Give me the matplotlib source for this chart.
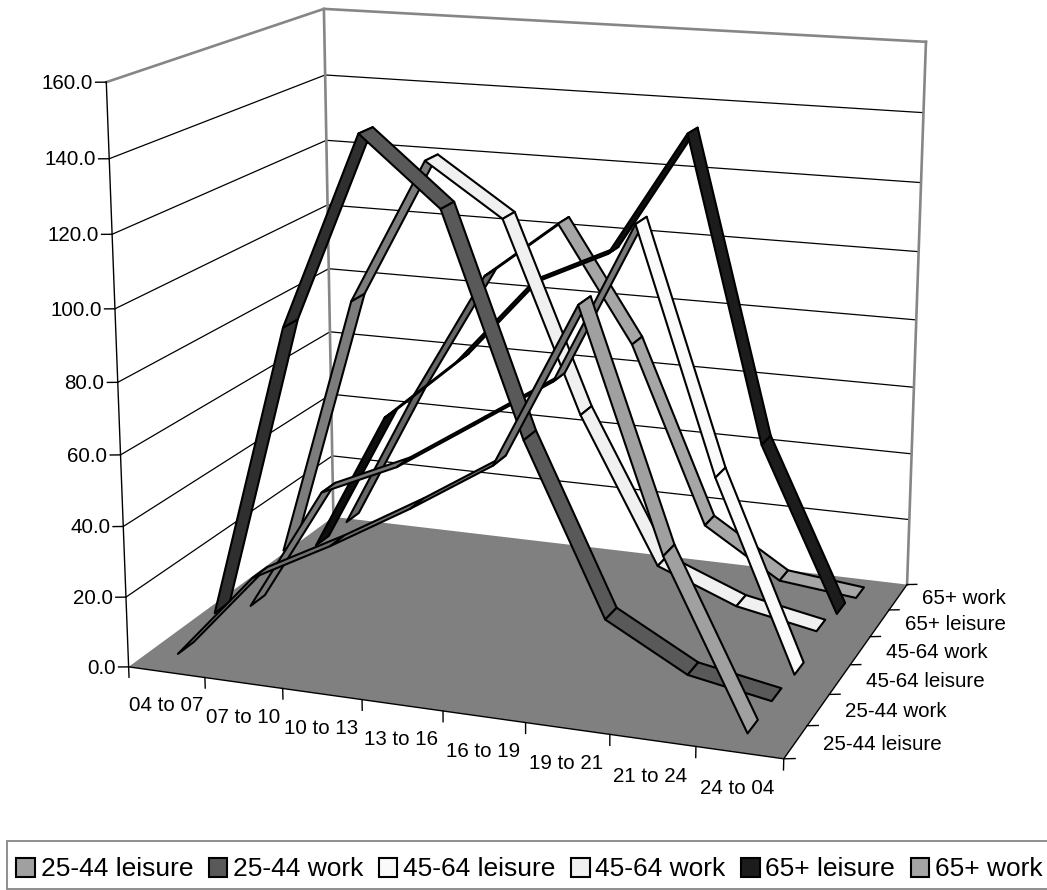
import matplotlib
matplotlib.use('Agg')
import numpy as np
import matplotlib.pyplot as plt
from matplotlib.patches import Patch, Rectangle
from mpl_toolkits.mplot3d import proj3d
from mpl_toolkits.mplot3d.art3d import Poly3DCollection

plt.rcParams['font.family'] = ['Liberation Sans', 'DejaVu Sans']

periods = ['04 to 07', '07 to 10', '10 to 13', '13 to 16', '16 to 19', '19 to 21', '21 to 24', '24 to 04']
groups = ['25-44 leisure', '25-44 work', '45-64 leisure', '45-64 work', '65+ leisure', '65+ work']
value_ticks = [0, 20, 40, 60, 80, 100, 120, 140, 160]

leisure_25 = [3.0, 27.5, 39.2, 52.1, 66.2, 110.5, 47.3, 2.7]
work_25 = [6.8, 90.9, 145.2, 126.8, 66.5, 19.5, 7.0, 2.8]
leisure_45 = [1.1, 37.6, 47.5, 61.9, 76.4, 121.5, 54.4, 1.7]
work_45 = [10.4, 87.4, 129.4, 114.7, 60.8, 19.4, 10.4, 6.0]
leisure_65 = [4.6, 46.8, 66.0, 91.0, 101.6, 137.4, 50.4, 3.1]
work_65 = [4.8, 47.7, 86.3, 103.8, 69.6, 16.9, 2.6, 0.1]
values = [leisure_25, work_25, leisure_45, work_45, leisure_65, work_65]

# falling / rising face of each ribbon
fall_colors = ['#a0a0a0', '#595959', '#fafafa', '#f0f0f0', '#1c1c1c', '#a6a6a6']
rise_colors = ['#707070', '#2f2f2f', '#787878', '#7c7c7c', '#0e0e0e', '#666666']

GRID_GREY = '#868686'
RIBBON = 0.42
FONT = 14.8

# camera of the reference chart: (category, group, value) to pixel position
camera = np.array([
    [74.30697, 42.93982, -0.174256, 128.62523],
    [4.150419, -11.33880, -3.681175, 666.85412],
    [-0.00967656, 0.02643618, -0.000326048, 1.0],
])
# third row only has to keep the matrix invertible
depth_row = np.linalg.svd(camera)[2][-1] * 1e-3
proj = np.vstack([camera[0], camera[1], depth_row, camera[2]])

fig = plt.figure(figsize=(10.47, 8.90), dpi=100)
# Axes3D is always square, so let it overhang the figure top and bottom
ax = fig.add_axes([0, -78.5 / 890, 1, 1047 / 890], projection='3d')
ax.set_axis_off()
ax.computed_zorder = False
ax.set_proj_type('ortho')  # turns off the line clipping of the perspective mode
ax.get_proj = lambda: proj
ax.viewLim.intervalx = (0, 1047)
ax.viewLim.intervaly = (968.5, -78.5)


def label(x, d, v, text, **kwargs):
    # plain 2D text at the projected spot
    u, w, _ = proj3d.proj_transform(x, d, v, proj)
    ax.text2D(u, w, text, transform=ax.transData, fontsize=FONT, color='black', va='center', **kwargs)


n_x = len(periods)
n_d = len(groups)
top = value_ticks[-1]

floor = Poly3DCollection([[(0, 0, 0), (n_x, 0, 0), (n_x, n_d, 0), (0, n_d, 0)]],
                         facecolors='#808080', edgecolors='none', zorder=1)
ax.add_collection3d(floor)

# walls
for v in value_ticks[1:-1]:
    ax.plot([0, 0, n_x], [0, n_d, n_d], [v, v, v], color='black', lw=0.9, zorder=2)
ax.plot([0, 0, n_x], [0, n_d, n_d], [top, top, top], color=GRID_GREY, lw=1.9, zorder=3)
ax.plot([0, 0], [n_d, n_d], [0, top], color=GRID_GREY, lw=1.9, zorder=3)
ax.plot([n_x, n_x], [n_d, n_d], [0, top], color=GRID_GREY, lw=1.9, zorder=3)

# axes lines and ticks
ax.plot([0, 0], [0, 0], [0, top], color='black', lw=1.0, zorder=4)
ax.plot([0, n_x, n_x], [0, 0, n_d], [0, 0, 0], color='black', lw=1.0, zorder=4)
for v in value_ticks:
    ax.plot([0, -0.11], [0, -0.045], [v, v], color='black', lw=1.0, zorder=4)
    label(-0.14, -0.057, v - 0.3, f'{v:.1f}', ha='right')
for i in range(n_x + 1):
    ax.plot([i, i], [0, 0], [0, -3], color='black', lw=1.0, zorder=4)
for i, name in enumerate(periods):
    label(i + 0.48, 0, -9.8, name, ha='center')
for j in range(n_d + 1):
    ax.plot([n_x, n_x + 0.115], [j, j + 0.05], [0, 0], color='black', lw=1.0, zorder=4)
for j, name in enumerate(groups):
    label(n_x + 0.3, j + 0.55, 0, name, ha='left')

# ribbons, back to front
order = 10
for j in reversed(range(n_d)):
    d0 = j + 0.5 - RIBBON / 2
    d1 = j + 0.5 + RIBBON / 2
    series = values[j]
    for i in range(n_x - 1):
        x0, x1 = i + 0.5, i + 1.5
        color = rise_colors[j] if series[i + 1] > series[i] else fall_colors[j]
        face = [(x0, d0, series[i]), (x1, d0, series[i + 1]), (x1, d1, series[i + 1]), (x0, d1, series[i])]
        ax.add_collection3d(Poly3DCollection([face], facecolors=color, edgecolors='black',
                                             linewidths=1.5, zorder=order))
        order += 1

ax.set_xticks([])
ax.set_yticks([])
ax.set_zticks([])

# legend frame runs off the right edge of the picture
fig.add_artist(Rectangle((7 / 1047, 1 / 890), 1045 / 1047, 48 / 890, transform=fig.transFigure,
                         facecolor='white', edgecolor=GRID_GREY, linewidth=1.3))
handles = [Patch(facecolor=c, edgecolor='black', linewidth=1.5, label=g)
           for c, g in zip(fall_colors, groups)]
fig.legend(handles=handles, ncol=n_d, loc='center left', bbox_to_anchor=(7 / 1047, 1 - 869.5 / 890),
           fontsize=19, borderaxespad=0, borderpad=0.35, handlelength=0.7, handleheight=0.7,
           handletextpad=0.22, columnspacing=0.59, frameon=False)

fig.savefig('out.png', dpi=100)
